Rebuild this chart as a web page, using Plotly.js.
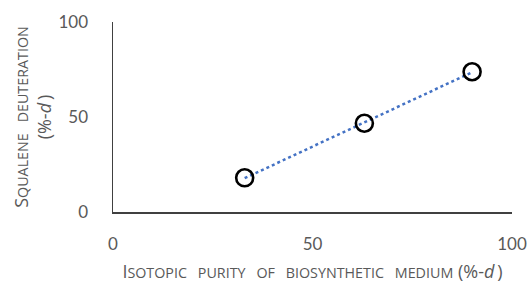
<!DOCTYPE html>
<html><head><meta charset="utf-8">
<script src="https://cdn.plot.ly/plotly-3.0.1.min.js"></script>
<style>html,body{margin:0;padding:0;background:#fff}#c{width:528px;height:284px}</style>
</head><body><div id="c"></div>
<script>
const purity = [33, 63, 90];
const deuteration = [18, 46.7, 73.8];
const xTicks = [0, 50, 100];
const yTicks = [0, 50, 100];

// linear trendline (least squares) across data range
const n = purity.length;
const mx = purity.reduce((a,b)=>a+b,0)/n, my = deuteration.reduce((a,b)=>a+b,0)/n;
let sxy=0, sxx=0;
for (let i=0;i<n;i++){sxy+=(purity[i]-mx)*(deuteration[i]-my);sxx+=(purity[i]-mx)**2;}
const slope = sxy/sxx, icpt = my - slope*mx;
const tx = [Math.min(...purity), Math.max(...purity)];
const ty = tx.map(v=>icpt+slope*v);

const gray = '#595959';
const F = 'Lato, "Open Sans", sans-serif';
const TF = '"Open Sans", Lato, sans-serif';
const data = [
  {x: tx, y: ty, mode:'lines', line:{color:'#4472C4', width:2.5, dash:'dot'}, hoverinfo:'skip'},
  {x: purity, y: deuteration, mode:'markers',
   marker:{symbol:'circle-open', size:17, color:'#000', line:{width:2.6, color:'#000'}}}
];
const small = t => '<span style="font-size:14.3px">'+t.split(' ').join(' \u2002')+'</span>';
const unit = '<span>(%-</span><span style="font-style:italic">d</span><span>\u2009)</span>';
const layout = {
  width:528, height:284, showlegend:false,
  paper_bgcolor:'#fff', plot_bgcolor:'#fff',
  margin:{l:113, r:16, t:22, b:72},
  font:{family:F, color:gray, size:17},
  xaxis:{range:[0,100], tickvals:xTicks, ticktext:xTicks.map(String), showgrid:false, zeroline:false,
    showline:true, linecolor:'#404040', linewidth:1.5, ticks:'', ticklabelstandoff:16,
    tickfont:{size:17, color:gray},
    title:{text:'I'+small('SOTOPIC PURITY OF BIOSYNTHETIC MEDIUM')+' '+unit, font:{family:TF, size:18, color:gray}, standoff:12}},
  yaxis:{range:[0,100], tickvals:yTicks, ticktext:yTicks.map(String), showgrid:false, zeroline:false,
    showline:true, linecolor:'#404040', linewidth:1.5, ticks:'', ticklabelstandoff:20,
    tickfont:{size:17, color:gray},
    title:{text:'S'+small('QUALENE DEUTERATION')+'<br>'+unit, font:{family:TF, size:18, color:gray}, standoff:2}}
};
Plotly.newPlot('c', data, layout, {staticPlot:true});
</script></body></html>
